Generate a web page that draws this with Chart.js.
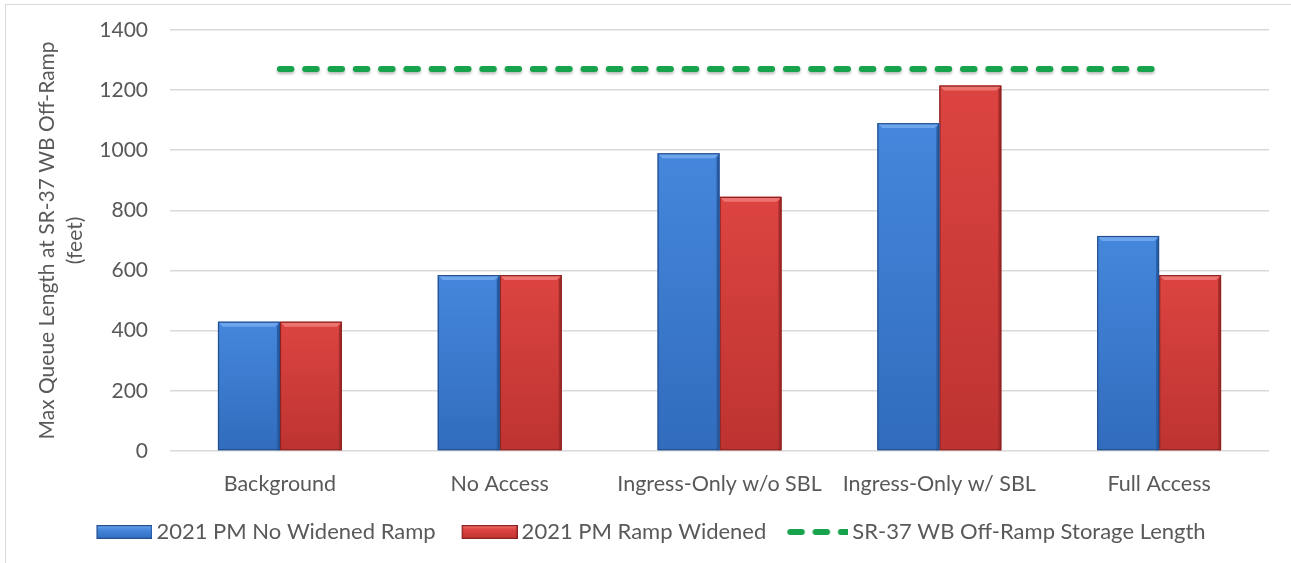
<!DOCTYPE html>
<html>
<head>
<meta charset="utf-8">
<script src="https://cdn.jsdelivr.net/npm/chart.js@4.4.1/dist/chart.umd.min.js"></script>
<style>
  html, body { margin: 0; padding: 0; background: #fff; }
  #wrap { position: relative; width: 1291px; height: 563px; overflow: hidden; }
  #frame { position: absolute; left: 5px; top: 4px; width: 1320px; height: 620px;
           border: 1.5px solid #d9d9d9; box-sizing: border-box; pointer-events: none; }
  canvas { display: block; }
</style>
</head>
<body>
<div id="wrap">
  <canvas id="chart" width="1291" height="563"></canvas>
  <div id="frame"></div>
</div>
<script>
// Scenario categories along the x axis
const categories = ['Background', 'No Access', 'Ingress-Only w/o SBL', 'Ingress-Only w/ SBL', 'Full Access'];
// Max queue length (feet), 2021 PM without the widened ramp
const noWidenedRamp = [430, 585, 990, 1090, 715];
// Max queue length (feet), 2021 PM with the ramp widened
const rampWidened = [430, 585, 845, 1215, 585];
// Off-ramp storage length (feet), constant across scenarios
const storageLength = [1270, 1270, 1270, 1270, 1270];
// Y axis tick values
const yTicks = [0, 200, 400, 600, 800, 1000, 1200, 1400];

const seriesNames = ['2021 PM No Widened Ramp', '2021 PM Ramp Widened', 'SR-37 WB Off-Ramp Storage Length'];

const FONT = 'Lato, "Open Sans", sans-serif';
const TEXT = '#595959';
const GREEN = '#17a34b';
const DASH = [11.5, 13.8];
const DASH_WIDTH = 6;

// Legend marker geometry: the swatch image is wider than the legend box and
// its mark sits at the right, so the mark hugs its label text.
const MARK_BOX = 49;
const MARK_IMG = 63;

const palettes = {
  blue: { top: '#6ea6ee', body1: '#4587dc', body2: '#316cbd', edge: '#234f8f', side: '#2a5ea6' },
  red:  { top: '#ee7471', body1: '#dc4441', body2: '#bd3331', edge: '#8c2321', side: '#a52c2a' }
};

// Vertical gradient fill per bar, from its top down to the baseline
function barFill(p) {
  return (ctx) => {
    const chart = ctx.chart;
    if (!chart.chartArea || ctx.type !== 'data') return p.body1;
    const ys = chart.scales.y;
    const yt = ys.getPixelForValue(ctx.parsed.y);
    const yb = ys.getPixelForValue(0);
    const g = chart.ctx.createLinearGradient(0, yt, 0, yb);
    g.addColorStop(0, p.body1);
    g.addColorStop(1, p.body2);
    return g;
  };
}

// Small bevelled swatch used as the legend marker of a bar series
function barSwatch(p) {
  const c = document.createElement('canvas');
  c.width = MARK_IMG; c.height = 14;
  const g = c.getContext('2d');
  const w = 56, h = 14, x0 = MARK_IMG - w;
  const gr = g.createLinearGradient(0, 0, 0, h);
  gr.addColorStop(0, p.top); gr.addColorStop(0.35, p.body1); gr.addColorStop(1, p.body2);
  g.fillStyle = gr; g.fillRect(x0, 0, w, h);
  g.strokeStyle = p.edge; g.lineWidth = 1.2; g.strokeRect(x0 + 0.6, 0.6, w - 1.2, h - 1.2);
  return c;
}

// Dashed green marker for the storage-length series
function dashSwatch(color) {
  const c = document.createElement('canvas');
  c.width = MARK_IMG; c.height = 10;
  const g = c.getContext('2d');
  g.strokeStyle = color; g.lineWidth = DASH_WIDTH; g.lineCap = 'round';
  g.setLineDash(DASH);
  g.beginPath(); g.moveTo(5, 5); g.lineTo(MARK_IMG - 1, 5); g.stroke();
  return c;
}

// Shadow under the storage line and bevel highlights over each bar
const bevelPlugin = {
  id: 'bevel',
  beforeDatasetDraw(chart, args) {
    if (args.meta.type === 'line') {
      const ctx = chart.ctx;
      ctx.save();
      ctx.shadowColor = 'rgba(0,0,0,0.28)';
      ctx.shadowBlur = 3;
      ctx.shadowOffsetY = 2;
    }
  },
  afterDatasetDraw(chart, args) {
    const meta = args.meta;
    if (meta.type === 'line') { chart.ctx.restore(); return; }
    if (meta.type !== 'bar') return;
    const p = meta.index === 0 ? palettes.blue : palettes.red;
    const ctx = chart.ctx;
    const b = 5;
    ctx.save();
    meta.data.forEach((el) => {
      const { x, y, base, width } = el.getProps(['x', 'y', 'base', 'width'], true);
      const l = x - width / 2, r = x + width / 2;
      // top bevel
      ctx.fillStyle = p.top;
      ctx.beginPath();
      ctx.moveTo(l, y); ctx.lineTo(r, y); ctx.lineTo(r - b, y + b); ctx.lineTo(l + b, y + b);
      ctx.closePath(); ctx.fill();
      // right side shade
      ctx.fillStyle = p.side;
      ctx.beginPath();
      ctx.moveTo(r, y); ctx.lineTo(r, base); ctx.lineTo(r - 3, base); ctx.lineTo(r - 3, y + b);
      ctx.closePath(); ctx.fill();
      // outline
      ctx.strokeStyle = p.edge; ctx.lineWidth = 1.2;
      ctx.strokeRect(l + 0.6, y + 0.6, width - 1.2, base - y - 1.2);
    });
    ctx.restore();
  }
};

const ctx = document.getElementById('chart').getContext('2d');
new Chart(ctx, {
  data: {
    labels: categories,
    datasets: [
      {
        type: 'bar', label: seriesNames[0], data: noWidenedRamp,
        backgroundColor: barFill(palettes.blue), borderWidth: 0,
        categoryPercentage: 0.564, barPercentage: 1.0, order: 2
      },
      {
        type: 'bar', label: seriesNames[1], data: rampWidened,
        backgroundColor: barFill(palettes.red), borderWidth: 0,
        categoryPercentage: 0.564, barPercentage: 1.0, order: 2
      },
      {
        type: 'line', label: seriesNames[2], data: storageLength,
        borderColor: GREEN, backgroundColor: GREEN, borderWidth: DASH_WIDTH,
        borderDash: DASH, borderCapStyle: 'round',
        pointRadius: 0, fill: false, order: 1
      }
    ]
  },
  options: {
    responsive: false,
    animation: false,
    layout: { padding: { left: 33, right: 22, top: 10, bottom: 10 } },
    plugins: {
      tooltip: { enabled: false },
      legend: {
        position: 'bottom',
        labels: {
          usePointStyle: true,
          pointStyleWidth: MARK_BOX,
          padding: 26,
          color: TEXT,
          font: { family: FONT, size: 22 },
          generateLabels(chart) {
            const marks = [barSwatch(palettes.blue), barSwatch(palettes.red), dashSwatch(GREEN)];
            return chart.data.datasets.map((ds, i) => ({
              text: ds.label, pointStyle: marks[i], fillStyle: 'transparent',
              strokeStyle: 'transparent', lineWidth: 0, hidden: false,
              datasetIndex: i, fontColor: TEXT
            }));
          }
        }
      }
    },
    scales: {
      x: {
        grid: { display: false },
        border: { display: false },
        afterFit(scale) { scale.height = 44; },
        ticks: { color: TEXT, font: { family: FONT, size: 21.5 }, padding: 12, maxRotation: 0 }
      },
      y: {
        min: 0, max: 1400,
        afterBuildTicks(scale) { scale.ticks = yTicks.map(v => ({ value: v })); },
        afterFit(scale) { scale.width = 137; },
        grid: { color: '#d9d9d9', lineWidth: 1.5, drawTicks: false },
        border: { display: false },
        ticks: {
          color: TEXT, font: { family: FONT, size: 21, lineHeight: 0.75 }, padding: 22,
          callback: (v) => String(v)
        },
        title: {
          display: true,
          text: ['Max Queue Length at SR-37 WB Off-Ramp', '(feet)'],
          color: TEXT, font: { family: FONT, size: 21, lineHeight: 1.35 }, padding: 0
        }
      }
    }
  },
  plugins: [bevelPlugin]
});
</script>
</body>
</html>
